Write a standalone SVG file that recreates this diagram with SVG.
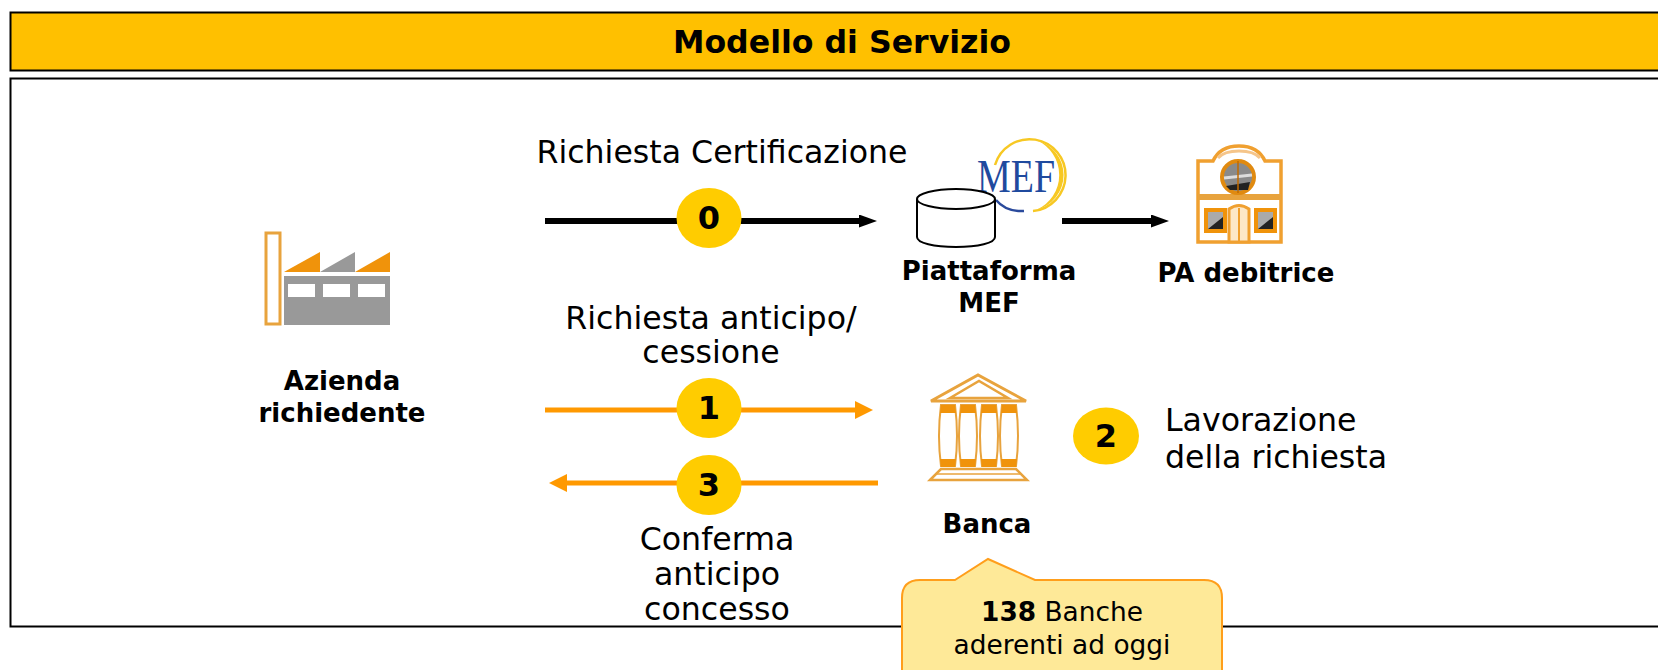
<svg xmlns="http://www.w3.org/2000/svg" width="1658" height="670" viewBox="0 0 1658 670">
<style>
text{font-family:"DejaVu Sans",Verdana,sans-serif;fill:#000;text-anchor:middle}
.l{font-size:31.6px}
.b{font-size:26px;font-weight:bold}
.n{font-size:32px;font-weight:bold}
.c{fill:#ffcc00}
.i{fill:#f0930b}
.o{fill:none;stroke:#e8a33d}
.col{fill:#fff;stroke:#e8a33d;stroke-width:2}
</style>
<defs>
<marker id="ab" markerUnits="userSpaceOnUse" markerWidth="18" markerHeight="13" refX="0" refY="6.5" orient="auto"><path d="M0 0L18 6.5L0 13Z" fill="#000"/></marker>
<marker id="ao" markerUnits="userSpaceOnUse" markerWidth="18" markerHeight="18" refX="0" refY="9" orient="auto"><path d="M0 0L18 9L0 18Z" fill="#ff9900"/></marker>
<path id="column" d="M-7 405Q-11 436 -7 466H7Q11 436 7 405Z"/>
</defs>
<g id="header"><rect x="10.5" y="12.5" width="1700" height="58" fill="#ffc000" stroke="#000" stroke-width="2"/><text x="842" y="53" style="font-size:31.6px;font-weight:bold">Modello di Servizio</text></g>
<g id="frame"><rect x="10.5" y="78.5" width="1700" height="548" fill="#fff" stroke="#000" stroke-width="2"/></g>
<g id="connectors">
<path d="M545 221H859" stroke="#000" stroke-width="6" marker-end="url(#ab)" fill="none"/>
<path d="M1062 221H1151" stroke="#000" stroke-width="6" marker-end="url(#ab)" fill="none"/>
<path d="M545 410H855" stroke="#ff9900" stroke-width="5" marker-end="url(#ao)" fill="none"/>
<path d="M878 483H567" stroke="#ff9900" stroke-width="5" marker-end="url(#ao)" fill="none"/>
</g>
<g id="azienda">
<rect x="266" y="233" width="14" height="91" fill="#fff" stroke="#e8a33d" stroke-width="3"/>
<path d="M284 272L320 252V272Z" class="i"/><path d="M320 272L355 252V272Z" fill="#999"/><path d="M355 272L390 252V272Z" class="i"/>
<rect x="284" y="276" width="106" height="49" fill="#999"/>
<rect x="288" y="284" width="27" height="13" fill="#fff"/><rect x="323" y="284" width="27" height="13" fill="#fff"/><rect x="358" y="284" width="27" height="13" fill="#fff"/>
<text class="b" x="342" y="390">Azienda</text><text class="b" x="342" y="422">richiedente</text>
</g>
<g id="mef">
<path d="M995 165A36 36 0 1 1 1033 211" fill="none" stroke="#f7c823" stroke-width="2.5"/>
<path d="M1036 140A36 36 0 0 1 1036 210A38 38 0 0 0 1036 140Z" fill="#f7c823"/>
<path d="M996 200Q1006 212 1024 211" fill="none" stroke="#2a4a9c" stroke-width="2.5"/>
<text x="1016" y="192" style="font-family:'Liberation Serif',serif;font-size:46px;fill:#1f4a9e" textLength="78" lengthAdjust="spacingAndGlyphs">MEF</text>
<path d="M917 199V237C917 243 934 247 956 247S995 243 995 237V199" fill="#fff" stroke="#000" stroke-width="2"/>
<ellipse cx="956" cy="199" rx="39" ry="10" fill="#fff" stroke="#000" stroke-width="2"/>
<text class="b" x="989" y="280">Piattaforma</text><text class="b" x="989" y="312">MEF</text>
</g>
<g id="pa">
<path d="M1198 161H1213Q1220 146 1239 146Q1258 146 1265 161H1281V242H1198Z" fill="#fff" stroke="#f0a030" stroke-width="3.5"/>
<path d="M1218 158Q1224 151 1239 151Q1254 151 1260 158" fill="none" stroke="#f5c58a" stroke-width="3"/>
<path d="M1198 197H1281" stroke="#e8a33d" stroke-width="6"/>
<circle cx="1238" cy="177" r="16" fill="#8a8a8a" stroke="#e08a10" stroke-width="4"/>
<path d="M1224 178L1252 175" stroke="#ddd" stroke-width="3"/><path d="M1226 186L1250 182L1248 190H1230Z" fill="#222"/><path d="M1238 161V193" stroke="#c06a00" stroke-width="1.5"/>
<rect x="1206" y="210" width="19" height="21" fill="#aaa" stroke="#f0930b" stroke-width="4"/>
<rect x="1256" y="210" width="19" height="21" fill="#aaa" stroke="#f0930b" stroke-width="4"/>
<path d="M1208 229L1223 217V229Z" fill="#222"/><path d="M1258 229L1273 217V229Z" fill="#222"/>
<path d="M1229 242V209Q1239 202 1249 209V242Z" fill="#fde8c8" stroke="#f0a030" stroke-width="3"/>
<path d="M1239 208V242" stroke="#f0a030" stroke-width="2"/>
<text class="b" x="1246" y="282">PA debitrice</text>
</g>
<g id="banca">
<path d="M931 401L978 375L1026 401Z" fill="#fff" class="o" stroke-width="3"/>
<path d="M950 398L979 381L1008 398Z" class="o" stroke-width="2.5"/>
<use href="#column" x="948" class="col"/>
<use href="#column" x="968" class="col"/>
<use href="#column" x="989" class="col"/>
<use href="#column" x="1009" class="col"/>
<path d="M941 405H955L956 413H940ZM961 405H975L976 413H960ZM982 405H996L997 413H981ZM1002 405H1016L1017 413H1001ZM940 459H956L955 467H941ZM960 459H976L975 467H961ZM981 459H997L996 467H982ZM1001 459H1017L1016 467H1002Z" class="i"/>
<path d="M930 480L941 469H1016L1027 480Z" fill="#fff" class="o" stroke-width="2.5"/>
<path d="M937 474H1020" class="o" stroke-width="1.5"/>
<text class="b" x="987" y="533">Banca</text>
</g>
<g id="step0"><ellipse class="c" cx="709" cy="218" rx="32.5" ry="30"/><text class="n" x="709" y="229">0</text></g>
<g id="step1"><ellipse class="c" cx="709" cy="408" rx="32.5" ry="30"/><text class="n" x="709" y="419">1</text></g>
<g id="step3"><ellipse class="c" cx="709" cy="485" rx="32.5" ry="30"/><text class="n" x="709" y="496">3</text></g>
<g id="step2"><ellipse class="c" cx="1106" cy="436" rx="33" ry="28.5"/><text class="n" x="1106" y="447">2</text></g>
<g id="labels">
<text class="l" x="722" y="163">Richiesta Certificazione</text>
<text class="l" x="711" y="329">Richiesta anticipo/</text><text class="l" x="711" y="363">cessione</text>
<text class="l" x="717" y="550">Conferma</text><text class="l" x="717" y="585">anticipo</text><text class="l" x="717" y="620">concesso</text>
<text class="l" x="1165" y="431" style="text-anchor:start">Lavorazione</text><text class="l" x="1165" y="468" style="text-anchor:start">della richiesta</text>
</g>
<g id="callout">
<path d="M955 580L988 559L1035 580H1204Q1222 580 1222 598V690H902V598Q902 580 920 580Z" fill="#fee998" stroke="#ff9e1b" stroke-width="2"/>
<text x="1062" y="621" style="font-size:26.4px"><tspan font-weight="bold">138</tspan> Banche</text>
<text x="1062" y="654" style="font-size:26.4px">aderenti ad oggi</text>
</g>
</svg>
